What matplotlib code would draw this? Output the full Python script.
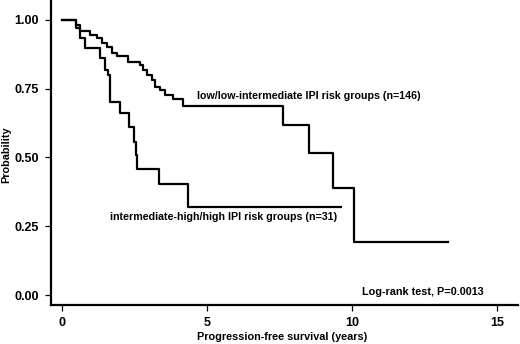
import numpy as np
import matplotlib
matplotlib.use('Agg')
import matplotlib.pyplot as plt

plt.rcParams['font.family'] = ['Liberation Sans', 'DejaVu Sans']
plt.rcParams['font.weight'] = 'bold'

# low/low-intermediate IPI risk groups, step times (years) and survival
low_t = [0, 0.50, 0.62, 0.97, 1.20, 1.37, 1.54, 1.71, 1.89, 2.28, 2.69, 2.79,
         2.92, 3.09, 3.21, 3.38, 3.55, 3.83, 4.17, 7.63, 8.53, 9.36, 10.08, 13.31]
low_s = [1.0, 0.98, 0.961, 0.945, 0.933, 0.915, 0.903, 0.879, 0.867, 0.848, 0.836, 0.818,
         0.80, 0.782, 0.757, 0.745, 0.727, 0.712, 0.687, 0.618, 0.517, 0.390, 0.194, 0.194]

# intermediate-high/high IPI risk groups
high_t = [0, 0.50, 0.62, 0.79, 1.32, 1.48, 1.58, 1.66, 1.99, 2.31, 2.48, 2.54,
          2.60, 3.33, 4.35, 9.62]
high_s = [1.0, 0.97, 0.935, 0.897, 0.861, 0.818, 0.80, 0.703, 0.661, 0.61, 0.558, 0.509,
          0.458, 0.403, 0.321, 0.321]

xticks = [0, 5, 10, 15]
yticks = [0.0, 0.25, 0.50, 0.75, 1.00]
ytick_labels = ['0.00', '0.25', '0.50', '0.75', '1.00']

fig = plt.figure(figsize=(5.2, 3.44), dpi=100)
ax = fig.add_axes([0.098, 0.1134, 0.898, 0.884])

ax.step(low_t, low_s, where='post', color='black', lw=1.6)
ax.step(high_t, high_s, where='post', color='black', lw=1.6)

ax.set_xlim(-0.38, 15.72)
ax.set_ylim(-0.036, 1.069)

ax.set_xticks(xticks)
ax.set_xticklabels([str(v) for v in xticks])
ax.set_yticks(yticks)
ax.set_yticklabels(ytick_labels)

for side in ['top', 'right']:
    ax.spines[side].set_visible(False)
for side in ['left', 'bottom']:
    ax.spines[side].set_linewidth(1.6)

ax.tick_params(direction='out', length=4.5, width=0.9, labelsize=9, pad=4)

ax.set_xlabel('Progression-free survival (years)', fontsize=7.8, fontweight='bold')
ax.set_ylabel('Probability', fontsize=7.8, fontweight='bold')
ax.xaxis.set_label_coords(0.495, -0.088)
ax.yaxis.set_label_coords(-0.086, 0.493)

ax.text(4.65, 0.723, 'low/low-intermediate IPI risk groups (n=146)',
        fontsize=7.7, fontweight='bold', va='center', ha='left')
ax.text(1.66, 0.282, 'intermediate-high/high IPI risk groups (n=31)',
        fontsize=7.7, fontweight='bold', va='center', ha='left')
ax.text(10.34, 0.013, 'Log-rank test, P=0.0013',
        fontsize=7.8, fontweight='bold', va='center', ha='left')

fig.savefig('out.png', dpi=100)
